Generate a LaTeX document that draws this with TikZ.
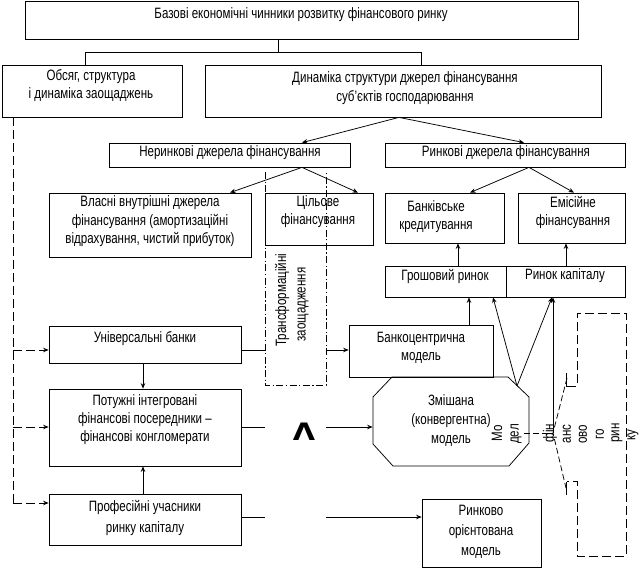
\documentclass[tikz,border=0pt]{standalone}
\usepackage{fontspec}
\setmainfont{Liberation Sans}[FakeStretch=0.77]
\newfontfamily\widefont{DejaVu Sans}
\usetikzlibrary{arrows.meta,fit,calc}
\begin{document}
\begin{tikzpicture}[x=1pt,y=-1pt,line width=0.75pt,
  box/.style={draw,inner sep=0pt},
  txt/.style={align=center,inner sep=0pt,font=\fontsize{15}{19}\selectfont},
  arr/.style={-{Stealth[length=5.5pt,width=4.5pt]}},
  dsh/.style={dash pattern=on 9pt off 4pt},
  dshs/.style={dash pattern=on 6pt off 3pt},
  dd/.style={dash pattern=on 7pt off 2.5pt on 1.2pt off 2.5pt}]
\useasboundingbox (0,0) rectangle (641,570);

% ---- boxes
\node[box,fit={(25,1)(578,39)}] (top) {};
\node[txt] (topt) at (301,15) {Базові економічні чинники розвитку фінансового ринку};
\node[box,fit={(2,65)(182,117)}] (obs) {};
\node[txt,font=\fontsize{15}{18}\selectfont] (obst) at (91,85) {Обсяг, структура\\і динаміка заощаджень};
\node[box,fit={(205,65)(601,117)}] (dyn) {};
\node[txt] (dynt) at (405,88.5) {Динаміка структури джерел фінансування\\суб’єктів господарювання};
\node[box,fit={(109,143)(350,167)}] (ner) {};
\node[txt] (nert) at (230,153) {Неринкові джерела фінансування};
\node[box,fit={(385,143)(625,167)}] (rin) {};
\node[txt] (rint) at (506,153) {Ринкові джерела фінансування};
\node[box,fit={(49,193)(251,257)}] (vl) {};
\node[txt,font=\fontsize{15}{18.5}\selectfont] (vlt) at (150,221.5) {Власні внутрішні джерела\\фінансування (амортизаційні\\відрахування, чистий прибуток)};
\node[box,fit={(265,193)(373,245)}] (cil) {};
\node[txt,font=\fontsize{15}{18}\selectfont] (cilt) at (318,212) {Цільове\\фінансування};
\node[box,fit={(385,193)(504,243)}] (bk) {};
\node[txt,font=\fontsize{15}{18}\selectfont] (bkt) at (436,217) {Банківське\\кредитування};
\node[box,fit={(518,193)(625,243)}] (em) {};
\node[txt,font=\fontsize{15}{18}\selectfont] (emt) at (573,212) {Емісійне\\фінансування};
\node[box,fit={(385,266)(506,297)}] (gr) {};
\node[txt] (grt) at (445,276) {Грошовий ринок};
\node[box,fit={(506,266)(625,297)}] (rk) {};
\node[txt] (rkt) at (565,276) {Ринок капіталу};
\node[box,fit={(49,326)(241,363)}] (un) {};
\node[txt] (unt) at (145,339) {Універсальні банки};
\node[box,fit={(49,389)(241,466)}] (pt) {};
\node[txt,font=\fontsize{15}{18}\selectfont] (ptt) at (145,420) {Потужні інтегровані\\фінансові посередники –\\фінансові конгломерати};
\node[box,fit={(49,494)(241,545)}] (pr) {};
\node[txt,font=\fontsize{15}{21}\selectfont] (prt) at (145,517.5) {Професійні учасники\\ринку капіталу};
\node[box,fit={(349,325)(493,377)}] (bc) {};
\node[txt,font=\fontsize{15}{18}\selectfont] (bct) at (421,348) {Банкоцентрична\\модель};
\node[inner sep=0pt,fit={(373,377)(529,466)}] (mx) {};
\draw (392,377) -- (508,377) -- (529,397) -- (529,443) -- (509,466) -- (393,466) -- (373,444) -- (373,397) -- cycle;
\node[txt,font=\fontsize{15}{19}\selectfont] (mxt) at (451,421) {Змішана\\(конвергентна)\\модель};
\node[box,fit={(422,499)(541,567)}] (rm) {};
\node[txt,font=\fontsize{15}{20}\selectfont] (rmt) at (481,532) {Ринково\\орієнтована\\модель};

% ---- rotated texts
\node[txt,rotate=90,anchor=west] (tr1) at (282,347) {Трансформаційні};
\node[txt,rotate=90,anchor=west] (tr2) at (303,342) {заощадження};
\node[txt,rotate=90] (m1) at (497,433) {Мо};
\node[txt,rotate=90] (m2) at (516,434) {дел};
\node[txt,rotate=90] (f1) at (550,433) {фін};
\node[txt,rotate=90] (f2) at (567,434) {анс};
\node[txt,rotate=90] (f3) at (583,434) {ово};
\node[txt,rotate=90] (f4) at (600,434) {го};
\node[txt,rotate=90] (f5) at (617,433) {рин};
\node[txt,rotate=90] (f6) at (633,435) {ку};
\node[inner sep=0pt,xscale=1.2,font=\widefont\bfseries\fontsize{24}{24}\selectfont] (lam) at (304,432) {Λ};

% ---- helper coordinates
\coordinate (j1) at (278,52);
\coordinate (jl) at (85,52);
\coordinate (jr) at (421,52);
\coordinate (ds) at (399,0);
\coordinate (x302) at (302,0);
\coordinate (x524) at (524,0);
\coordinate (x230) at (230,0);
\coordinate (x358) at (358,0);
\coordinate (x529) at (529,0);
\coordinate (x470) at (470,0);
\coordinate (x574) at (574,0);
\coordinate (x458) at (458,0);
\coordinate (x566) at (566,0);
\coordinate (x469) at (469,0);
\coordinate (x493) at (493,0);
\coordinate (x552) at (552,0);
\coordinate (x143) at (143,0);
\coordinate (mp) at (517,386);
\coordinate (mv) at (553,433);
\coordinate (md) at (524,433);
\coordinate (lv) at (13,503);
\coordinate (y350) at (0,350);
\coordinate (y427) at (0,427);
\coordinate (y517) at (0,517);
\coordinate (ddl) at (265,0);
\coordinate (ddr) at (326,0);

% ---- connectors
\draw (top.south -| j1) -- (j1);
\draw (obs.north -| jl) -- (jl) -- (jr) -- (dyn.north -| jr);
\draw[arr] (dyn.south -| ds) -- (ner.north -| x302);
\draw[arr] (dyn.south -| ds) -- (rin.north -| x524);
\draw[arr] (ner.south -| x302) -- (vl.north -| x230);
\draw[arr] (ner.south -| x302) -- (cil.north -| x358);
\draw[arr] (rin.south -| x529) -- (bk.north -| x470);
\draw[arr] (rin.south -| x529) -- (em.north -| x574);
\draw[arr] (gr.north -| x458) -- (bk.south -| x458);
\draw[arr] (rk.north -| x566) -- (em.south -| x566);
\draw[arr] (bc.north -| x469) -- (gr.south -| x469);
\draw[arr] (mp) -- (gr.south -| x493);
\draw[arr] (mp) -- (rk.south -| x552);
\draw[arr] (mv) -- (rk.south -| mv);
\draw[dshs] (md) -- (mv);

\draw[dsh] (obs.south -| lv) -- (lv);
\draw[dsh,arr] (lv |- y350) -- (un.west |- y350);
\draw[dsh,arr] (lv |- y427) -- (pt.west |- y427);
\draw[dsh,arr] (lv) -- (pr.west |- lv);
\draw[arr] (un.south -| x143) -- (pt.north -| x143);
\draw[arr] (pr.north -| x143) -- (pt.south -| x143);

\draw (un.east |- y350) -- (ddl |- y350);
\draw[arr] (ddr |- y350) -- (bc.west |- y350);
\draw (pt.east |- y427) -- (ddl |- y427);
\draw[arr] (ddr |- y427) -- (mx.west |- y427);
\draw (pr.east |- y517) -- (ddl |- y517);
\draw[arr] (ddr |- y517) -- (rm.west |- y517);

% ---- dash-dot open frame
\draw[dd] (265,172) -- (265,385) -- (326,385) -- (326,172);

% ---- right dashed bracket frame
\draw[dsh] (567,386) -- (577,386) -- (577,313) -- (626,313) -- (626,556) -- (577,556) -- (577,481) -- (567,481);
\draw (566,373) -- (566,387);
\draw (566,482) -- (566,495);
\draw[dshs] (567,378) -- (553,433) -- (566,488);
\end{tikzpicture}
\end{document}
